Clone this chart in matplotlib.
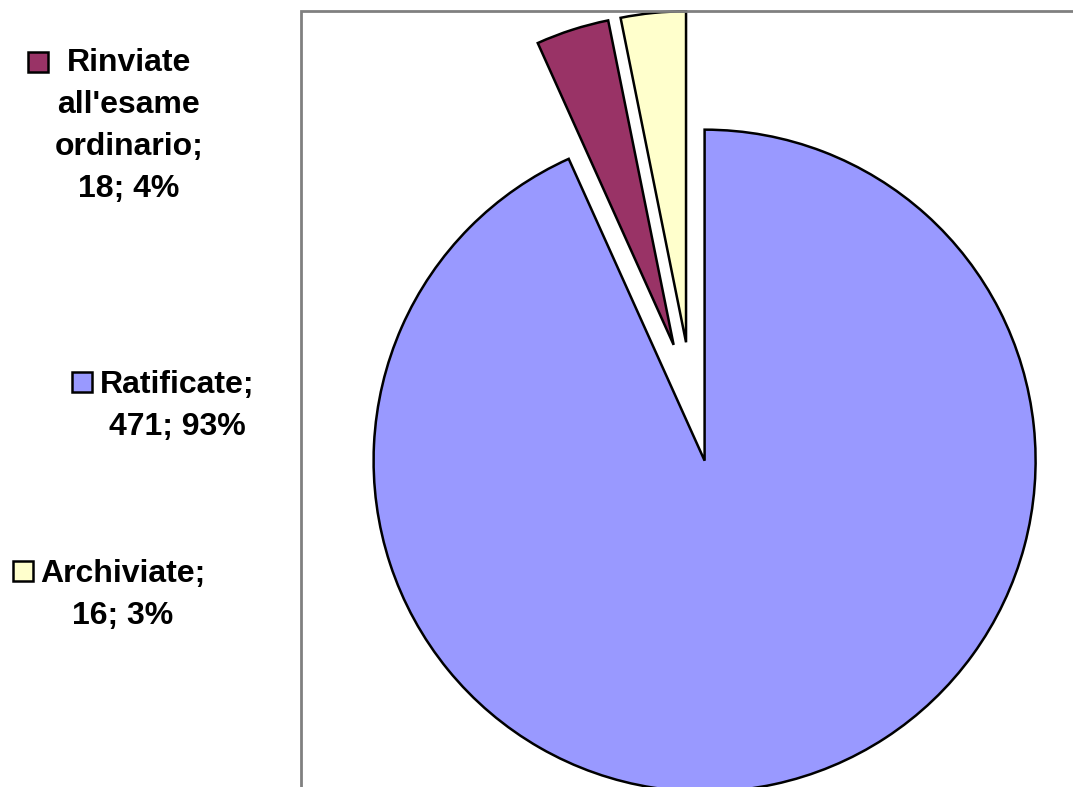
import textwrap

import matplotlib.pyplot as plt
from matplotlib.patches import Rectangle

# data
categories = ['Ratificate', "Rinviate all'esame ordinario", 'Archiviate']
counts = [471, 18, 16]
colors = ['#9999FF', '#993366', '#FFFFCC']

W, H = 1073, 787
plt.rcParams['font.family'] = ['Liberation Sans', 'DejaVu Sans']

fig = plt.figure(figsize=(W / 100, H / 100), dpi=100)
ax = fig.add_axes([0, 0, 1, 1])

# plot area frame (runs off the right and bottom edges)
fig.patches.append(Rectangle((301 / W, -0.1), 1.0, 1 - 10.5 / H + 0.1,
                             transform=fig.transFigure, fill=False,
                             edgecolor='#808080', linewidth=2, zorder=0))

# axes units are pixels, so explode is given in pixels too
ax.pie(counts, colors=colors, startangle=90, counterclock=False,
       center=(692, H - 402), radius=331, explode=[60] * len(counts),
       wedgeprops=dict(edgecolor='black', linewidth=1.8))
ax.set_xlim(0, W)
ax.set_ylim(0, H)
ax.axis('off')

total = sum(counts)
# legend entries: (square left, square top, text centre x, text centre y) in pixels
legend_pos = {
    "Rinviate all'esame ordinario": (28, 52, 129, 126),
    'Ratificate': (72, 372, 177, 406),
    'Archiviate': (13, 561, 123, 595),
}
for name, value, color in zip(categories, counts, colors):
    sx, sy, tx, ty = legend_pos[name]
    fig.patches.append(Rectangle((sx / W, 1 - (sy + 20) / H), 20 / W, 20 / H,
                                 transform=fig.transFigure, facecolor=color,
                                 edgecolor='black', linewidth=1.8))
    label = textwrap.fill(f'{name}; {value}; {round(100 * value / total)}%', width=11)
    fig.text(tx / W, 1 - ty / H, label, ha='center', va='center',
             multialignment='center', fontsize=23, fontweight='bold',
             linespacing=1.53)

fig.savefig('out.png', dpi=100)
